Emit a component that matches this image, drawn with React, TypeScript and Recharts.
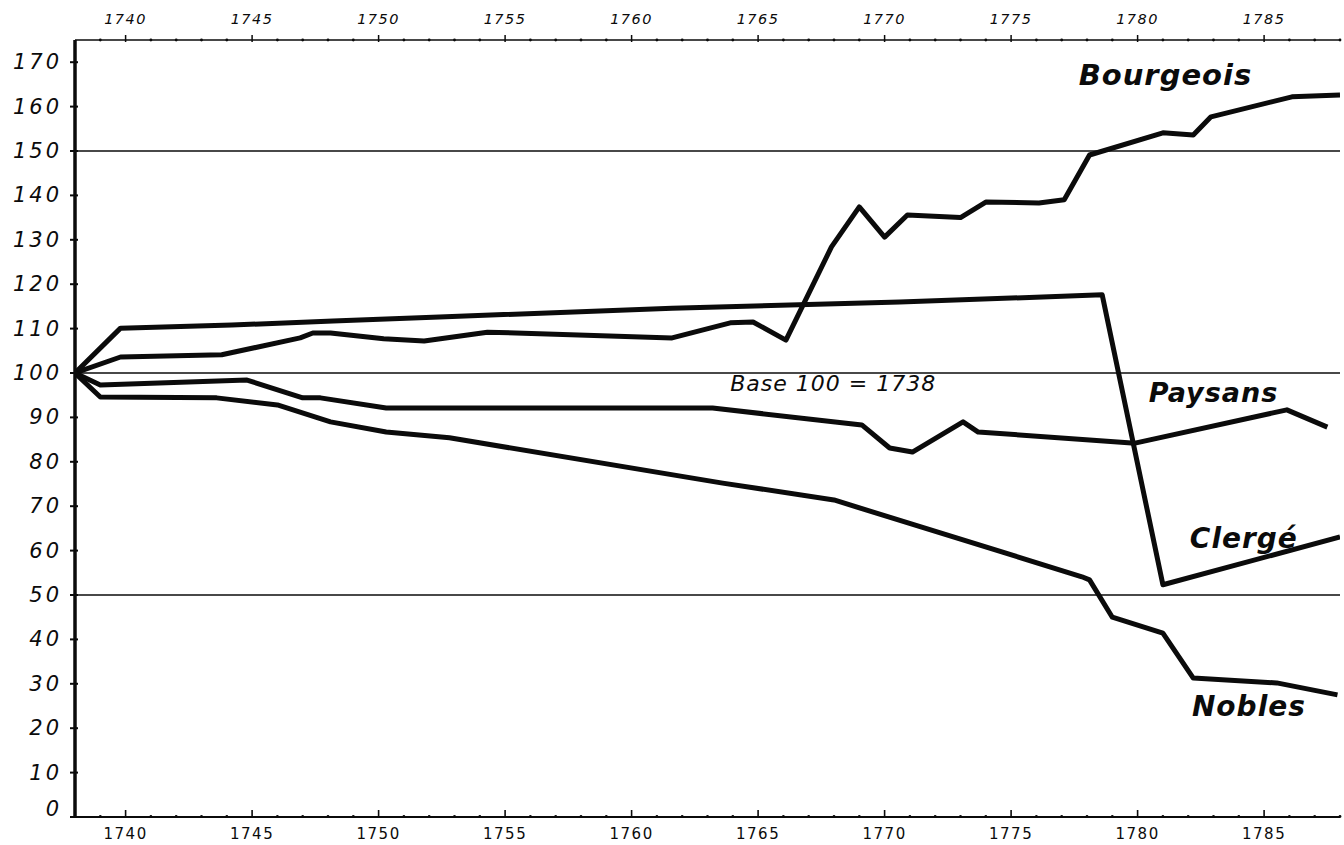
import React from 'react';
import { LineChart, Line, XAxis, YAxis, ReferenceLine, ReferenceDot } from 'recharts';

// ---- data (index, base 100 = 1738) ----
const bourgeoisYears = [1738, 1739.8, 1743.8, 1746.9, 1747.4, 1748.1, 1750.2, 1751.8, 1754.3, 1761.6, 1763.9, 1764.8, 1766.1, 1767.9, 1769.0, 1770.0, 1770.9, 1773.0, 1774.0, 1776.1, 1777.1, 1778.1, 1781.0, 1782.2, 1782.9, 1786.1, 1788];
const bourgeoisValues = [100, 103.6, 104.1, 107.9, 109.0, 109.0, 107.7, 107.2, 109.2, 107.9, 111.3, 111.5, 107.4, 128.4, 137.4, 130.6, 135.6, 135.0, 138.5, 138.3, 139.0, 149.1, 154.1, 153.6, 157.7, 162.2, 162.6];

const clergeYears = [1738, 1739.8, 1744.2, 1748.2, 1752.4, 1761.6, 1770.6, 1778.6, 1781.0, 1788];
const clergeValues = [100, 110.1, 110.8, 111.7, 112.6, 114.6, 116.0, 117.6, 52.3, 63.1];

const paysansYears = [1738, 1739.0, 1744.8, 1747.0, 1747.7, 1750.3, 1763.2, 1769.1, 1770.2, 1771.1, 1773.1, 1773.7, 1779.9, 1785.9, 1787.5];
const paysansValues = [100, 97.3, 98.4, 94.4, 94.4, 92.1, 92.1, 88.3, 83.1, 82.2, 89.0, 86.7, 84.2, 91.7, 87.8];

const noblesYears = [1738, 1739.0, 1743.6, 1746.0, 1748.1, 1750.3, 1752.8, 1763.6, 1768.0, 1777.8, 1778.1, 1779.0, 1781.0, 1782.2, 1785.5, 1787.9];
const noblesValues = [100, 94.6, 94.4, 92.8, 89.0, 86.7, 85.4, 75.2, 71.4, 54.1, 53.4, 45.0, 41.4, 31.3, 30.2, 27.5];

const yearTicks = Array.from({ length: 51 }, (_, i) => 1738 + i);
const valueTicks = [0, 10, 20, 30, 40, 50, 60, 70, 80, 90, 100, 110, 120, 130, 140, 150, 160, 170];
const guideValues = [50, 100, 150];

const seriesLabels = [
  { text: 'Bourgeois', year: 1781.1, value: 167.1, size: 29 },
  { text: 'Paysans', year: 1783.0, value: 95.5, size: 27 },
  { text: 'Clergé', year: 1784.2, value: 62.8, size: 28 },
  { text: 'Nobles', year: 1784.4, value: 25.0, size: 28 },
];
const baseNote = { text: 'Base 100 = 1738', year: 1763.9, value: 97.7 };

const toPoints = (years: number[], values: number[]) => years.map((year, i) => ({ year, value: values[i] }));

const FONT = '"DejaVu Sans", sans-serif';
const INK = '#0b0b0b';

const BottomTick = (props: any) => {
  const { x, y, payload } = props;
  const v = payload.value;
  if (v === 1738) return <g />;
  const major = v % 5 === 0;
  return (
    <g>
      {major ? (
        <line x1={x} x2={x} y1={y + 1} y2={y - 7} stroke={INK} strokeWidth={1.6} />
      ) : (
        <circle cx={x} cy={y - 0.5} r={1.4} fill={INK} />
      )}
      {major && (
        <text x={x} y={y + 17} textAnchor="middle" dominantBaseline="central" fontSize={15} fontFamily={FONT} letterSpacing={1.5} fill={INK}>
          {v}
        </text>
      )}
    </g>
  );
};

const TopTick = (props: any) => {
  const { x, y, payload } = props;
  const v = payload.value;
  if (v === 1738) return <g />;
  const major = v % 5 === 0;
  return (
    <g>
      {major ? (
        <line x1={x} x2={x} y1={y - 5} y2={y + 2} stroke={INK} strokeWidth={1.5} />
      ) : (
        <circle cx={x} cy={y} r={1.4} fill={INK} />
      )}
      {major && (
        <text x={x} y={y - 21} textAnchor="middle" dominantBaseline="central" fontSize={14.5} fontStyle="italic" fontFamily={FONT} letterSpacing={1.5} fill={INK}>
          {v}
        </text>
      )}
    </g>
  );
};

const LeftTick = (props: any) => {
  const { x, y, payload } = props;
  const v = payload.value;
  return (
    <g>
      <line x1={x - 5} x2={x + 3} y1={y} y2={y} stroke={INK} strokeWidth={2} />
      <text x={x - 13} y={v === 0 ? y - 8 : y} textAnchor="end" dominantBaseline="central" fontSize={21} fontStyle="italic" fontFamily={FONT} letterSpacing={3} fill={INK}>
        {v}
      </text>
    </g>
  );
};

const makeLabel = (text: string, size: number, bold: boolean, anchor: 'middle' | 'start') => (props: any) => {
  const vb = props.viewBox || {};
  const cx = (vb.x || 0) + (vb.width || 0) / 2;
  const cy = (vb.y || 0) + (vb.height || 0) / 2;
  return (
    <text x={cx} y={cy} textAnchor={anchor} dominantBaseline="central" fontSize={size} fontStyle="italic" fontWeight={bold ? 'bold' : 'normal'} fontFamily={FONT} letterSpacing={1} fill={INK}>
      {text}
    </text>
  );
};

export default function App() {
  const series = [
    { name: 'Bourgeois', data: toPoints(bourgeoisYears, bourgeoisValues) },
    { name: 'Clergé', data: toPoints(clergeYears, clergeValues) },
    { name: 'Paysans', data: toPoints(paysansYears, paysansValues) },
    { name: 'Nobles', data: toPoints(noblesYears, noblesValues) },
  ];
  return (
    <div style={{ position: 'absolute', left: 0, top: 0, background: '#fff' }}>
      <LineChart width={1344} height={845} margin={{ top: 0, right: 4, bottom: 0, left: 0 }}>
        <XAxis
          xAxisId="bottom"
          dataKey="year"
          type="number"
          orientation="bottom"
          domain={[1738, 1788]}
          allowDataOverflow
          ticks={yearTicks}
          interval={0}
          height={28}
          tickSize={0}
          tickMargin={0}
          tickLine={false}
          tick={<BottomTick />}
          axisLine={{ stroke: INK, strokeWidth: 2 }}
        />
        <XAxis
          xAxisId="top"
          dataKey="year"
          type="number"
          orientation="top"
          domain={[1738, 1788]}
          allowDataOverflow
          ticks={yearTicks}
          interval={0}
          height={40}
          tickSize={0}
          tickMargin={0}
          tickLine={false}
          tick={<TopTick />}
          axisLine={{ stroke: INK, strokeWidth: 1.5 }}
        />
        <YAxis
          type="number"
          domain={[0, 175]}
          allowDataOverflow
          ticks={valueTicks}
          interval={0}
          width={75}
          tickSize={0}
          tickMargin={0}
          tickLine={false}
          tick={<LeftTick />}
          axisLine={{ stroke: INK, strokeWidth: 3.5 }}
        />
        {guideValues.map((v) => (
          <ReferenceLine key={v} xAxisId="bottom" y={v} stroke={INK} strokeWidth={1.3} />
        ))}
        {series.map((s) => (
          <Line
            key={s.name}
            xAxisId="bottom"
            data={s.data}
            dataKey="value"
            name={s.name}
            type="linear"
            stroke={INK}
            strokeWidth={5}
            strokeLinejoin="round"
            dot={false}
            activeDot={false}
            isAnimationActive={false}
          />
        ))}
        {seriesLabels.map((l) => (
          <ReferenceDot
            key={l.text}
            xAxisId="bottom"
            x={l.year}
            y={l.value}
            r={0}
            fill="none"
            stroke="none"
            ifOverflow="visible"
            label={makeLabel(l.text, l.size, true, 'middle')}
          />
        ))}
        <ReferenceDot
          xAxisId="bottom"
          x={baseNote.year}
          y={baseNote.value}
          r={0}
          fill="none"
          stroke="none"
          ifOverflow="visible"
          label={makeLabel(baseNote.text, 22, false, 'start')}
        />
      </LineChart>
    </div>
  );
}
